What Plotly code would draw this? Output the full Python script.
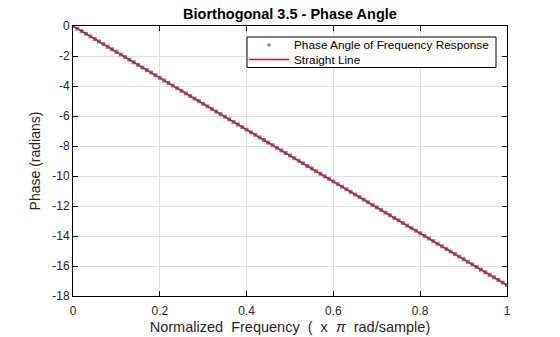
import plotly.graph_objects as go

# Normalized frequency grid (x pi rad/sample)
freq = [0.00, 0.01, 0.02, 0.03, 0.04, 0.05, 0.06, 0.07, 0.08, 0.09,
        0.10, 0.11, 0.12, 0.13, 0.14, 0.15, 0.16, 0.17, 0.18, 0.19,
        0.20, 0.21, 0.22, 0.23, 0.24, 0.25, 0.26, 0.27, 0.28, 0.29,
        0.30, 0.31, 0.32, 0.33, 0.34, 0.35, 0.36, 0.37, 0.38, 0.39,
        0.40, 0.41, 0.42, 0.43, 0.44, 0.45, 0.46, 0.47, 0.48, 0.49,
        0.50, 0.51, 0.52, 0.53, 0.54, 0.55, 0.56, 0.57, 0.58, 0.59,
        0.60, 0.61, 0.62, 0.63, 0.64, 0.65, 0.66, 0.67, 0.68, 0.69,
        0.70, 0.71, 0.72, 0.73, 0.74, 0.75, 0.76, 0.77, 0.78, 0.79,
        0.80, 0.81, 0.82, 0.83, 0.84, 0.85, 0.86, 0.87, 0.88, 0.89,
        0.90, 0.91, 0.92, 0.93, 0.94, 0.95, 0.96, 0.97, 0.98, 0.99,
        1.00]

# Phase angle of the frequency response (radians)
phase = [0.000, -0.173, -0.346, -0.518, -0.691, -0.864, -1.037, -1.210, -1.382, -1.555,
         -1.728, -1.901, -2.073, -2.246, -2.419, -2.592, -2.765, -2.937, -3.110, -3.283,
         -3.456, -3.629, -3.801, -3.974, -4.147, -4.320, -4.492, -4.665, -4.838, -5.011,
         -5.184, -5.356, -5.529, -5.702, -5.875, -6.048, -6.220, -6.393, -6.566, -6.739,
         -6.912, -7.084, -7.257, -7.430, -7.603, -7.775, -7.948, -8.121, -8.294, -8.467,
         -8.639, -8.812, -8.985, -9.158, -9.331, -9.503, -9.676, -9.849, -10.022, -10.194,
         -10.367, -10.540, -10.713, -10.886, -11.058, -11.231, -11.404, -11.577, -11.750, -11.922,
         -12.095, -12.268, -12.441, -12.614, -12.786, -12.959, -13.132, -13.305, -13.477, -13.650,
         -13.823, -13.996, -14.169, -14.341, -14.514, -14.687, -14.860, -15.033, -15.205, -15.378,
         -15.551, -15.724, -15.896, -16.069, -16.242, -16.415, -16.588, -16.760, -16.933, -17.106,
         -17.279]

# Straight reference line endpoints
line_x = [0.0, 1.0]
line_y = [0.0, -17.279]

legend_labels = ["Phase Angle of Frequency Response", "Straight Line"]

x_ticks = [0, 0.2, 0.4, 0.6, 0.8, 1]
x_tick_labels = ["0", "0.2", "0.4", "0.6", "0.8", "1"]
y_ticks = [0, -2, -4, -6, -8, -10, -12, -14, -16, -18]
y_tick_labels = ["0", "-2", "-4", "-6", "-8", "-10", "-12", "-14", "-16", "-18"]

FONT = "Liberation Sans, Arial, Helvetica, sans-serif"
BLUE = "#4a90d9"
RED = "#ff0000"

# plot area in pixels
L, R, T, B = 73, 507, 26, 296
W, H = 560, 337


def px(x):
    return (x - L) / (R - L)


def py(y):
    return 1 - (y - T) / (B - T)


fig = go.Figure()
fig.add_trace(go.Scatter(
    x=freq, y=phase, mode="markers",
    name=legend_labels[0], showlegend=False,
    marker=dict(symbol="square", size=4, color=BLUE, line=dict(width=0)),
))
fig.add_trace(go.Scatter(
    x=line_x, y=line_y, mode="lines",
    name=legend_labels[1], showlegend=False,
    line=dict(color=RED, width=1.5),
))

# Legend drawn manually (MATLAB-like compact box)
shapes = [
    dict(type="rect", xref="paper", yref="paper",
         x0=px(247), x1=px(496), y0=py(67.5), y1=py(37),
         line=dict(color="black", width=1), fillcolor="white", layer="above"),
    dict(type="rect", xref="paper", yref="paper",
         x0=px(267.5), x1=px(270.5), y0=py(46.5), y1=py(43.5),
         line=dict(width=0), fillcolor=BLUE, layer="above"),
    dict(type="line", xref="paper", yref="paper",
         x0=px(249), x1=px(289), y0=py(59.5), y1=py(59.5),
         line=dict(color=RED, width=1.5), layer="above"),
]
annotations = [
    dict(text=legend_labels[0], xref="paper", yref="paper", x=px(292), y=py(45),
         xanchor="left", yanchor="middle", showarrow=False,
         font=dict(size=11.8, color="black", family=FONT)),
    dict(text=legend_labels[1], xref="paper", yref="paper", x=px(292), y=py(59.5),
         xanchor="left", yanchor="middle", showarrow=False,
         font=dict(size=11.8, color="black", family=FONT)),
]

nb = "\u00a0"
fig.update_layout(
    width=W, height=H,
    margin=dict(l=L, r=W - R, t=T, b=H - B),
    paper_bgcolor="white", plot_bgcolor="white",
    font=dict(family=FONT, size=12, color="#262626"),
    title=dict(text="<b>Biorthogonal 3.5 - Phase Angle</b>", x=(L + R) / 2 / W,
               xanchor="center", y=1 - 14 / H, yanchor="middle",
               font=dict(size=14.5, color="black")),
    showlegend=False,
    shapes=shapes,
    annotations=annotations,
    xaxis=dict(
        range=[0, 1], tickvals=x_ticks, ticktext=x_tick_labels,
        showgrid=True, gridcolor="#e0e0e0", gridwidth=1, zeroline=False,
        showline=True, linecolor="black", linewidth=1, mirror="ticks",
        ticks="inside", ticklen=5, tickcolor="black",
        ticklabelstandoff=4, automargin=False,
        tickfont=dict(size=12, color="#262626"),
        title=dict(text=f"Normalized{nb}{nb}Frequency{nb}{nb}({nb}{nb}x{nb}{nb}<i>π</i>{nb}{nb}rad/sample)",
                   font=dict(size=14.5, color="#262626"), standoff=4),
    ),
    yaxis=dict(
        range=[-18, 0], tickvals=y_ticks, ticktext=y_tick_labels,
        showgrid=True, gridcolor="#e0e0e0", gridwidth=1, zeroline=False,
        showline=True, linecolor="black", linewidth=1, mirror="ticks",
        ticks="inside", ticklen=5, tickcolor="black", automargin=False,
        tickfont=dict(size=12, color="#262626"),
        title=dict(text="Phase (radians)", font=dict(size=14, color="#262626"), standoff=8),
    ),
)

fig.write_html("out.html")
